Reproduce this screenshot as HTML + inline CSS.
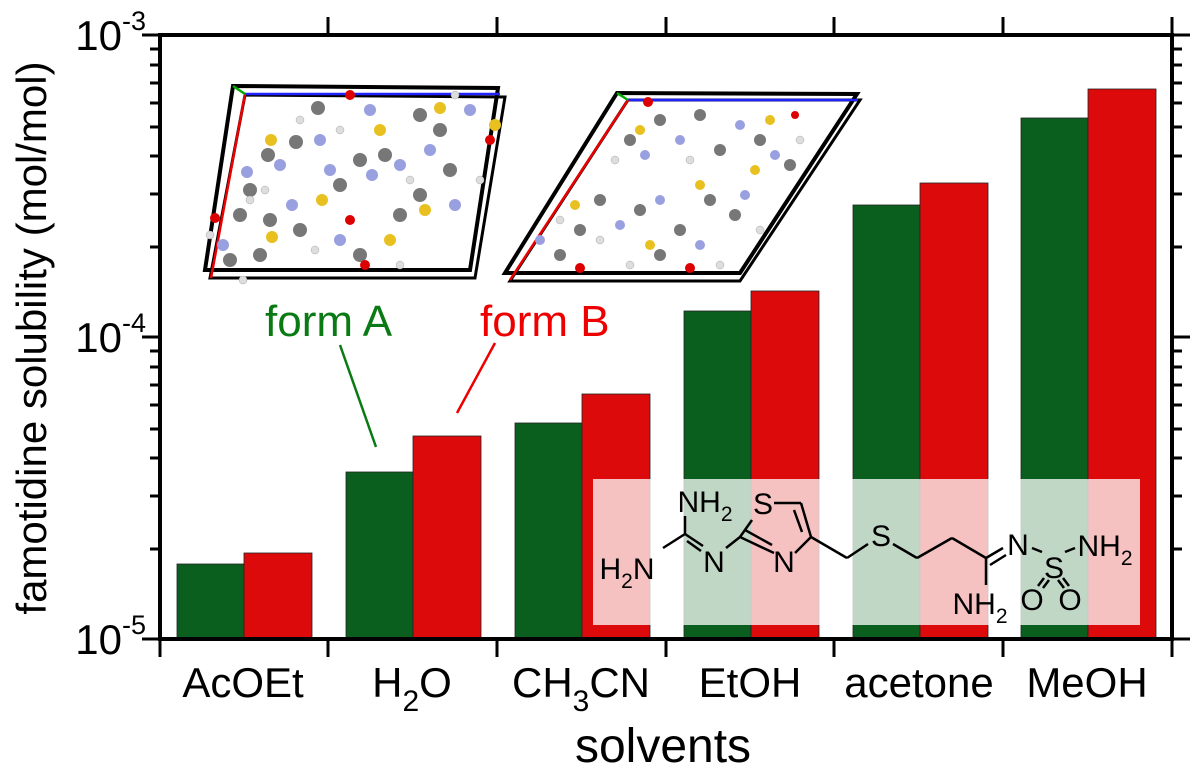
<!DOCTYPE html>
<html><head><meta charset="utf-8"><style>
html,body{margin:0;padding:0;background:#fff;}
svg{display:block;font-family:"Liberation Sans",Arial,sans-serif;}
</style></head><body>
<svg width="1200" height="779" viewBox="0 0 1200 779" xmlns="http://www.w3.org/2000/svg">
<g stroke="#222" stroke-width="0.8">
<rect x="177" y="564" width="67" height="75" fill="#0a5f1e"/>
<rect x="244" y="553" width="68" height="86" fill="#dc0a0a"/>
<rect x="346" y="472" width="67" height="167" fill="#0a5f1e"/>
<rect x="413" y="436" width="68" height="203" fill="#dc0a0a"/>
<rect x="515" y="423" width="67" height="216" fill="#0a5f1e"/>
<rect x="582" y="394" width="68" height="245" fill="#dc0a0a"/>
<rect x="684" y="311" width="67" height="328" fill="#0a5f1e"/>
<rect x="751" y="291" width="68" height="348" fill="#dc0a0a"/>
<rect x="853" y="205" width="67" height="434" fill="#0a5f1e"/>
<rect x="920" y="183" width="68" height="456" fill="#dc0a0a"/>
<rect x="1021" y="118" width="67" height="521" fill="#0a5f1e"/>
<rect x="1088" y="89" width="68" height="550" fill="#dc0a0a"/>
</g>
<rect x="593" y="479" width="547" height="146" fill="#fff" fill-opacity="0.75"/>
<g stroke="#000" stroke-width="4" fill="none">
<path d="M160 35 H1172 V639 H160 Z"/>
</g>
<g stroke="#000" stroke-width="3">
<line x1="142" y1="35" x2="160" y2="35"/><line x1="142" y1="337" x2="160" y2="337"/><line x1="142" y1="639" x2="160" y2="639"/>
<line x1="1172" y1="35" x2="1190" y2="35"/><line x1="1172" y1="337" x2="1190" y2="337"/><line x1="1172" y1="639" x2="1190" y2="639"/>
<g id="minors">
<line x1="150" y1="247" x2="160" y2="247"/><line x1="150" y1="194" x2="160" y2="194"/><line x1="150" y1="156" x2="160" y2="156"/><line x1="150" y1="127" x2="160" y2="127"/><line x1="150" y1="103" x2="160" y2="103"/><line x1="150" y1="83" x2="160" y2="83"/><line x1="150" y1="65" x2="160" y2="65"/><line x1="150" y1="49" x2="160" y2="49"/>
<line x1="150" y1="549" x2="160" y2="549"/><line x1="150" y1="496" x2="160" y2="496"/><line x1="150" y1="458" x2="160" y2="458"/><line x1="150" y1="429" x2="160" y2="429"/><line x1="150" y1="405" x2="160" y2="405"/><line x1="150" y1="385" x2="160" y2="385"/><line x1="150" y1="367" x2="160" y2="367"/><line x1="150" y1="351" x2="160" y2="351"/>
</g>
<use href="#minors" transform="translate(1332,0) scale(-1,1)"/>
<line x1="160" y1="639" x2="160" y2="657"/><line x1="328" y1="639" x2="328" y2="657"/><line x1="497" y1="639" x2="497" y2="657"/><line x1="666" y1="639" x2="666" y2="657"/><line x1="834" y1="639" x2="834" y2="657"/><line x1="1003" y1="639" x2="1003" y2="657"/><line x1="1172" y1="639" x2="1172" y2="657"/>
<line x1="328" y1="17" x2="328" y2="35"/><line x1="497" y1="17" x2="497" y2="35"/><line x1="666" y1="17" x2="666" y2="35"/><line x1="834" y1="17" x2="834" y2="35"/><line x1="1003" y1="17" x2="1003" y2="35"/><line x1="1172" y1="17" x2="1172" y2="35"/>
</g>
<g font-size="42" fill="#000" text-anchor="end">
<text x="146" y="50">10<tspan font-size="27" dy="-20">-3</tspan></text>
<text x="146" y="352">10<tspan font-size="27" dy="-20">-4</tspan></text>
<text x="146" y="654">10<tspan font-size="27" dy="-20">-5</tspan></text>
</g>
<text transform="translate(46,338) rotate(-90)" font-size="42" text-anchor="middle">famotidine solubility (mol/mol)</text>
<g font-size="42" text-anchor="middle">
<text x="243" y="697">AcOEt</text>
<text x="412" y="697">H<tspan font-size="30" dy="14">2</tspan><tspan dy="-14">O</tspan></text>
<text x="581" y="697">CH<tspan font-size="30" dy="14">3</tspan><tspan dy="-14">CN</tspan></text>
<text x="750" y="697">EtOH</text>
<text x="919" y="697">acetone</text>
<text x="1087" y="697">MeOH</text>
<text x="663" y="762" font-size="48">solvents</text>
</g>
<text x="265" y="336" font-size="44" fill="#0a7a14">form A</text>
<text x="480" y="336" font-size="44" fill="#e00">form B</text>
<line x1="340" y1="345" x2="376" y2="447" stroke="#0a7a14" stroke-width="2.5"/>
<line x1="495" y1="343" x2="457" y2="413" stroke="#e00" stroke-width="2.5"/>
<g fill="none" stroke="#000" stroke-width="4">
<path d="M233 86 L498 88 L470 270 L205 270 Z"/>
<path d="M245 95 L505 97 L475 278 L210 278 Z" stroke-width="3"/>
</g>
<line x1="245" y1="94" x2="500" y2="94" stroke="#22f" stroke-width="2.5"/>
<line x1="245" y1="94" x2="211" y2="278" stroke="#e00" stroke-width="2.5"/>
<line x1="233" y1="86" x2="245" y2="94" stroke="#0a0" stroke-width="2.5"/>
<g>
<g fill="#777"><circle cx="268" cy="155" r="7"/><circle cx="296" cy="142" r="7"/><circle cx="318" cy="108" r="7"/><circle cx="250" cy="190" r="7"/><circle cx="240" cy="215" r="7"/><circle cx="270" cy="220" r="7"/><circle cx="230" cy="260" r="7"/><circle cx="260" cy="255" r="7"/><circle cx="340" cy="185" r="7"/><circle cx="360" cy="160" r="7"/><circle cx="385" cy="155" r="7"/><circle cx="420" cy="115" r="7"/><circle cx="440" cy="130" r="7"/><circle cx="400" cy="215" r="7"/><circle cx="420" cy="195" r="7"/><circle cx="360" cy="255" r="7"/><circle cx="450" cy="170" r="7"/><circle cx="300" cy="230" r="7"/></g>
<g fill="#99a0e0"><circle cx="247" cy="172" r="6"/><circle cx="280" cy="165" r="6"/><circle cx="330" cy="170" r="6"/><circle cx="320" cy="140" r="6"/><circle cx="372" cy="175" r="6"/><circle cx="400" cy="165" r="6"/><circle cx="430" cy="150" r="6"/><circle cx="292" cy="205" r="6"/><circle cx="223" cy="245" r="6"/><circle cx="340" cy="240" r="6"/><circle cx="470" cy="110" r="6"/><circle cx="370" cy="110" r="6"/><circle cx="455" cy="205" r="6"/></g>
<g fill="#e8c020"><circle cx="271" cy="140" r="6"/><circle cx="272" cy="237" r="6"/><circle cx="322" cy="200" r="6"/><circle cx="390" cy="240" r="6"/><circle cx="440" cy="108" r="6"/><circle cx="425" cy="210" r="6"/><circle cx="495" cy="125" r="6"/><circle cx="380" cy="130" r="6"/></g>
<g fill="#d00"><circle cx="215" cy="218" r="5"/><circle cx="350" cy="220" r="5"/><circle cx="350" cy="95" r="5"/><circle cx="490" cy="140" r="5"/><circle cx="365" cy="265" r="5"/></g>
<g fill="#ddd" stroke="#aaa" stroke-width="0.5"><circle cx="265" cy="190" r="4"/><circle cx="250" cy="200" r="4"/><circle cx="243" cy="280" r="4"/><circle cx="210" cy="235" r="4"/><circle cx="300" cy="120" r="4"/><circle cx="340" cy="130" r="4"/><circle cx="410" cy="180" r="4"/><circle cx="455" cy="95" r="4"/><circle cx="480" cy="180" r="4"/><circle cx="315" cy="250" r="4"/><circle cx="400" cy="265" r="4"/></g>
</g>
<g fill="none" stroke="#000" stroke-width="4">
<path d="M617 93 L857 94 L740 273 L505 273 Z"/>
<path d="M628 100 L860 100 L740 281 L510 281 Z" stroke-width="3"/>
</g>
<line x1="628" y1="100" x2="858" y2="100" stroke="#22f" stroke-width="2.5"/>
<line x1="628" y1="100" x2="510" y2="280" stroke="#e00" stroke-width="2.5"/>
<line x1="617" y1="93" x2="628" y2="100" stroke="#0a0" stroke-width="2.5"/>
<g>
<g fill="#777"><circle cx="630" cy="140" r="6"/><circle cx="660" cy="120" r="6"/><circle cx="700" cy="115" r="6"/><circle cx="720" cy="150" r="6"/><circle cx="760" cy="140" r="6"/><circle cx="790" cy="165" r="6"/><circle cx="600" cy="200" r="6"/><circle cx="580" cy="230" r="6"/><circle cx="640" cy="210" r="6"/><circle cx="680" cy="230" r="6"/><circle cx="710" cy="200" r="6"/><circle cx="735" cy="215" r="6"/><circle cx="560" cy="255" r="6"/><circle cx="660" cy="255" r="6"/></g>
<g fill="#99a0e0"><circle cx="645" cy="155" r="5"/><circle cx="680" cy="140" r="5"/><circle cx="740" cy="125" r="5"/><circle cx="775" cy="155" r="5"/><circle cx="620" cy="225" r="5"/><circle cx="660" cy="200" r="5"/><circle cx="700" cy="245" r="5"/><circle cx="745" cy="195" r="5"/><circle cx="540" cy="240" r="5"/></g>
<g fill="#e8c020"><circle cx="640" cy="130" r="5"/><circle cx="700" cy="185" r="5"/><circle cx="755" cy="170" r="5"/><circle cx="575" cy="205" r="5"/><circle cx="650" cy="245" r="5"/><circle cx="770" cy="120" r="5"/></g>
<g fill="#d00"><circle cx="648" cy="102" r="5"/><circle cx="580" cy="268" r="5"/><circle cx="690" cy="268" r="5"/><circle cx="795" cy="115" r="4"/></g>
<g fill="#ddd" stroke="#aaa" stroke-width="0.5"><circle cx="615" cy="160" r="4"/><circle cx="690" cy="160" r="4"/><circle cx="800" cy="140" r="4"/><circle cx="560" cy="220" r="4"/><circle cx="630" cy="265" r="4"/><circle cx="720" cy="265" r="4"/><circle cx="760" cy="230" r="4"/><circle cx="600" cy="240" r="4"/></g>
</g>
<g stroke="#000" stroke-width="2.5" fill="none">
<line x1="663" y1="548" x2="685" y2="534"/><line x1="685" y1="534" x2="685" y2="516"/><line x1="685" y1="534" x2="703" y2="546"/><line x1="687" y1="541" x2="701" y2="551"/>
<line x1="726" y1="548" x2="740" y2="537"/>
<line x1="740" y1="537" x2="752" y2="520"/><line x1="774" y1="503" x2="801" y2="503"/><line x1="801" y1="503" x2="811" y2="537"/><line x1="794" y1="510" x2="802" y2="532"/>
<line x1="740" y1="537" x2="774" y2="553"/><line x1="745" y1="530" x2="772" y2="545"/><line x1="795" y1="553" x2="811" y2="537"/>
<line x1="811" y1="537" x2="847" y2="558"/><line x1="847" y1="558" x2="868" y2="544"/><line x1="893" y1="544" x2="917" y2="558"/><line x1="917" y1="558" x2="952" y2="538"/><line x1="952" y1="538" x2="986" y2="558"/>
<line x1="986" y1="558" x2="986" y2="585"/><line x1="986" y1="558" x2="1003" y2="548"/><line x1="990" y1="565" x2="1006" y2="555"/>
<line x1="1032" y1="548" x2="1042" y2="552"/><line x1="1065" y1="552" x2="1075" y2="548"/>
<line x1="1044" y1="578" x2="1038" y2="586"/><line x1="1049" y1="580" x2="1043" y2="588"/><line x1="1063" y1="578" x2="1069" y2="586"/><line x1="1058" y1="580" x2="1064" y2="588"/>
</g>
<g font-size="30" fill="#000" text-anchor="middle">
<text x="627" y="579">H<tspan font-size="21" dy="9">2</tspan><tspan dy="-9">N</tspan></text>
<text x="705" y="512">NH<tspan font-size="21" dy="9">2</tspan></text>
<text x="714" y="572">N</text>
<text x="763" y="514">S</text>
<text x="784" y="572">N</text>
<text x="881" y="546">S</text>
<text x="980" y="614">NH<tspan font-size="21" dy="9">2</tspan></text>
<text x="1018" y="555">N</text>
<text x="1054" y="578">S</text>
<text x="1105" y="556">NH<tspan font-size="21" dy="9">2</tspan></text>
<text x="1032" y="610">O</text>
<text x="1070" y="610">O</text>
</g>
</svg>
</body></html>
